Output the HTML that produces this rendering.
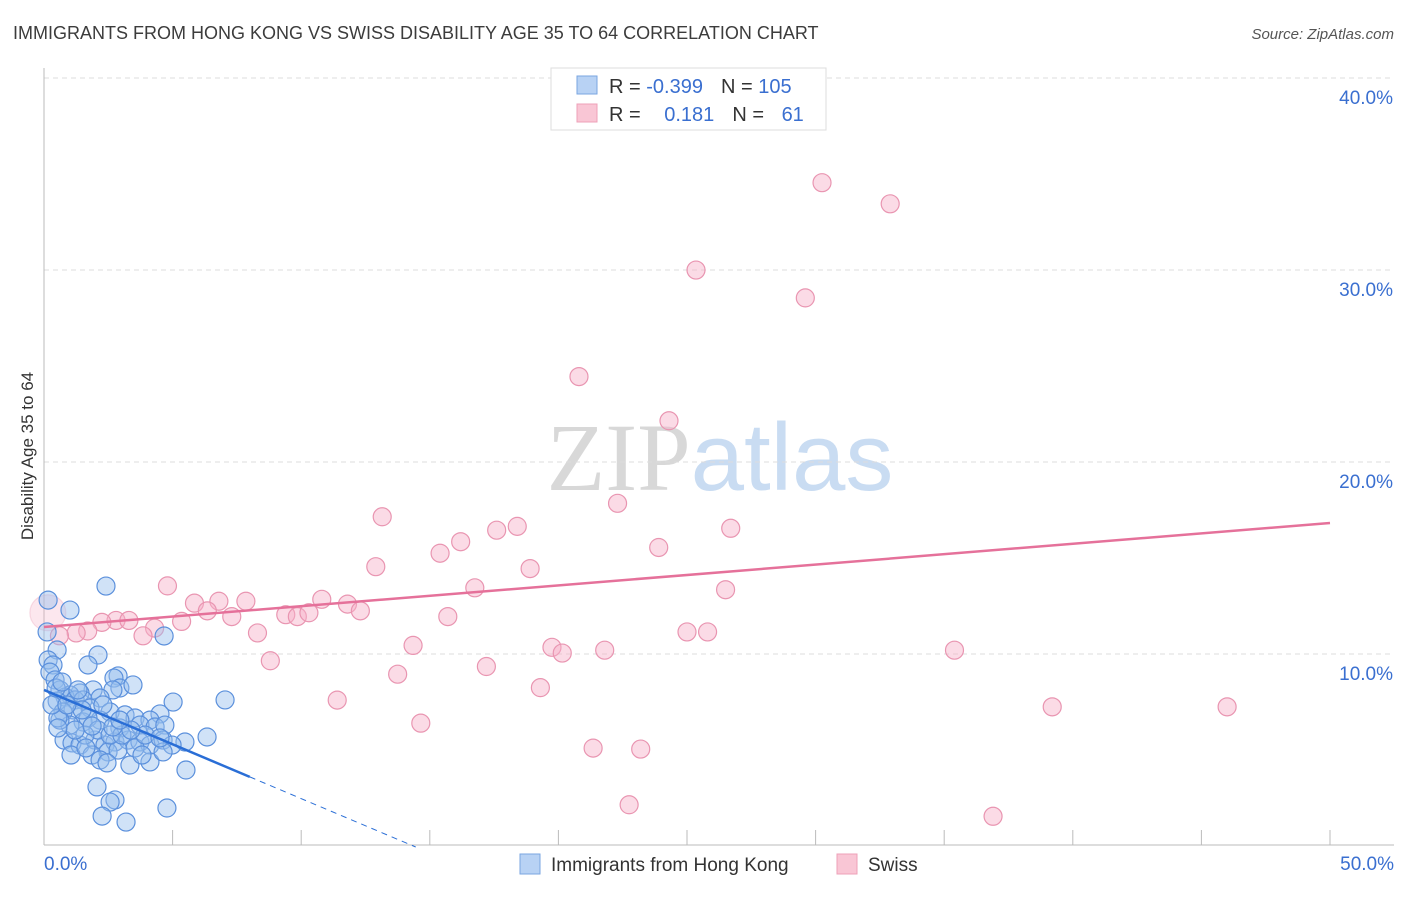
<!DOCTYPE html>
<html><head><meta charset="utf-8"><style>
body{margin:0;background:#fff;font-family:"Liberation Sans",sans-serif}
</style></head><body>
<svg id="chart" width="1406" height="892" xmlns="http://www.w3.org/2000/svg" font-family="Liberation Sans, sans-serif">
<text x="13" y="39" font-size="18" fill="#3c3c3c">IMMIGRANTS FROM HONG KONG VS SWISS DISABILITY AGE 35 TO 64 CORRELATION CHART</text>
<text x="1394" y="39" font-size="15" fill="#555" font-style="italic" text-anchor="end">Source: ZipAtlas.com</text>
<text x="720" y="490" font-size="96" text-anchor="middle"><tspan fill="#d8d8d8" font-family="Liberation Serif, serif">ZIP</tspan><tspan fill="#c9dcf2">atlas</tspan></text>
<g id="grid"></g>
<g id="axes"></g>
<g id="pts"></g>
<g id="lines"></g>
<text transform="translate(33,456) rotate(-90)" font-size="17" fill="#333" text-anchor="middle">Disability Age 35 to 64</text>
<g>
<rect x="551" y="68" width="275" height="62" fill="#fff" stroke="#ddd"/>
<rect x="577" y="76" width="20" height="18" fill="#b8d2f4" stroke="#7aa6e0"/>
<rect x="577" y="104" width="20" height="18" fill="#f9c6d5" stroke="#eea0b8"/>
<text x="609" y="93" font-size="20" fill="#333">R = <tspan fill="#3a6fd0">-0.399</tspan><tspan dx="18">N = </tspan><tspan fill="#3a6fd0">105</tspan></text>
<text x="609" y="121" font-size="20" fill="#333">R = <tspan fill="#3a6fd0" dx="18">0.181</tspan><tspan dx="18">N = </tspan><tspan fill="#3a6fd0" dx="12">61</tspan></text>
</g>
<g>
<rect x="520" y="854" width="20" height="20" fill="#b8d2f4" stroke="#7aa6e0"/>
<text x="551" y="871" font-size="19" fill="#333">Immigrants from Hong Kong</text>
<rect x="837" y="854" width="20" height="20" fill="#f9c6d5" stroke="#eea0b8"/>
<text x="868" y="871" font-size="19" fill="#333">Swiss</text>
</g>
</svg>
<script>
const yTicks=[10,20,30,40];
const yTickLabels=["10.0%","20.0%","30.0%","40.0%"];
const xTickVals=[0,5,10,15,20,25,30,35,40,45,50];
const xEndLabels=["0.0%","50.0%"];
const blueX=[2.41,0.16,0.12,0.51,2.10,4.67,0.16,0.35,0.23,0.43,0.62,1.71,2.88,2.72,2.95,3.46,2.68,1.91,1.40,1.01,0.82,1.21,1.52,2.18,0.51,1.79,1.13,0.74,2.57,7.04,5.02,4.51,3.15,3.54,4.12,2.18,1.52,1.01,0.62,2.95,3.73,4.32,4.70,5.48,6.34,0.78,1.09,1.40,1.98,2.37,2.76,3.27,3.73,4.12,4.63,4.98,2.49,1.87,1.05,2.88,3.54,2.06,3.34,4.12,5.52,4.63,2.76,2.57,2.26,3.19,4.78,0.54,0.31,1.32,1.71,2.10,2.57,1.59,1.21,3.03,3.93,4.51,0.47,0.70,1.48,0.89,2.29,2.68,3.38,2.18,1.63,3.81,2.95,1.87,0.54,2.45,1.01];
const blueY=[13.59,12.86,11.2,10.26,10.0,10.99,9.74,9.48,9.11,8.7,8.18,9.48,8.91,8.8,8.28,8.44,8.18,8.18,8.02,7.92,7.81,7.66,7.66,7.76,7.6,7.24,7.14,7.03,7.03,7.66,7.55,6.93,6.88,6.72,6.61,6.61,6.51,6.35,6.61,6.2,6.35,6.25,6.35,5.47,5.73,5.57,5.42,5.31,5.57,5.31,5.47,5.57,5.47,5.31,5.57,5.31,4.95,4.79,4.79,5.05,5.16,3.13,4.27,4.43,4.01,4.95,2.45,2.34,1.61,1.3,2.03,6.72,7.4,8.18,6.72,6.09,5.83,5.83,6.09,5.83,5.83,5.68,8.28,8.59,7.14,7.4,7.4,6.25,6.09,4.53,5.16,4.79,6.61,6.3,6.2,4.38,12.34];
const pinkX=[30.25,32.9,25.35,29.6,20.8,24.3,22.3,13.15,18.4,17.6,26.7,16.2,15.4,23.9,12.9,18.9,16.75,4.8,26.5,7.85,5.85,6.8,10.8,11.8,6.35,12.3,7.3,9.4,9.85,10.3,15.7,2.8,3.3,2.25,5.35,4.3,3.85,1.7,1.25,8.3,0.15,0.6,25.0,25.8,14.35,19.75,20.15,21.8,35.4,8.8,17.2,13.75,19.3,11.4,39.2,46.0,14.65,21.35,23.2,22.75,36.9];
const pinkY=[34.6,33.5,30.05,28.6,24.5,22.2,17.9,17.2,16.7,16.5,16.6,15.9,15.3,15.6,14.6,14.5,13.5,13.6,13.4,12.8,12.7,12.8,12.9,12.65,12.3,12.3,12.0,12.1,12.0,12.2,12.0,11.8,11.8,11.7,11.75,11.4,11.0,11.25,11.15,11.15,12.2,11.0,11.2,11.2,10.5,10.4,10.1,10.25,10.25,9.7,9.4,9.0,8.3,7.65,7.3,7.3,6.45,5.15,5.1,2.2,1.6];
const blueFit=[8.18,-0.566];
const pinkFit=[11.46,0.1083];
const X=v=>44+v*25.72, Y=v=>847-v*19.2;
const NS="http://www.w3.org/2000/svg";
function mk(p,t,a){const e=document.createElementNS(NS,t);for(const k in a)e.setAttribute(k,a[k]);document.getElementById(p).appendChild(e);return e;}
yTicks.forEach((t,i)=>{
 const l=mk('grid','line',{x1:44,x2:1394,y1:Y(t)-1,y2:Y(t)-1,stroke:'#ddd','stroke-dasharray':'5,4'});
 
 
 const tx=mk('grid','text',{x:1393,y:Y(t)+25,'font-size':19,fill:'#3a6fd0','text-anchor':'end'});
 tx.textContent=yTickLabels[i];
 
 
});
const ax=mk('axes','line',{x1:44,x2:44,y1:68,y2:845,stroke:'#bbb'});


const bx=mk('axes','line',{x1:44,x2:1394,y1:845,y2:845,stroke:'#bbb'});


xTickVals.forEach(v=>{
 const t=mk('axes','line',{x1:X(v),x2:X(v),y1:830,y2:845,stroke:'#bbb'});
 
 
});
[[0,'start',44],[50,'end',1394]].forEach((d,i)=>{
 const t=mk('axes','text',{x:d[2],y:870,'font-size':19,fill:'#3a6fd0','text-anchor':d[1]});
 t.textContent=xEndLabels[i];
 
 
});
pinkX.forEach((x,i)=>{
 const big=x<0.3;
 const c=mk('pts','circle',{cx:X(x),cy:Y(pinkY[i]),r:(big?18:9),fill:(big?'rgba(246,176,200,0.3)':'rgba(246,176,200,0.45)'),stroke:(big?'rgba(233,149,177,0.3)':'#e995b1'),'stroke-width':1.2});
 
 
});
blueX.forEach((x,i)=>{
 const c=mk('pts','circle',{cx:X(x),cy:Y(blueY[i]),r:9,fill:'rgba(150,190,238,0.45)',stroke:'#5b90dc','stroke-width':1.2});
 
 
});
const bf=x=>blueFit[0]+blueFit[1]*x, pf=x=>pinkFit[0]+pinkFit[1]*x;
const l1=mk('lines','line',{x1:X(0),y1:Y(bf(0)),x2:X(8),y2:Y(bf(8)),stroke:'#2a6ed6','stroke-width':2.5});


const x0=-blueFit[0]/blueFit[1];
const l2=mk('lines','line',{x1:X(8),y1:Y(bf(8)),x2:X(x0),y2:Y(0),stroke:'#2a6ed6','stroke-width':1,'stroke-dasharray':'6,5'});


const l3=mk('lines','line',{x1:X(0),y1:Y(pf(0)),x2:X(50),y2:Y(pf(50)),stroke:'#e5719a','stroke-width':2.5});


</script>
</body></html>
